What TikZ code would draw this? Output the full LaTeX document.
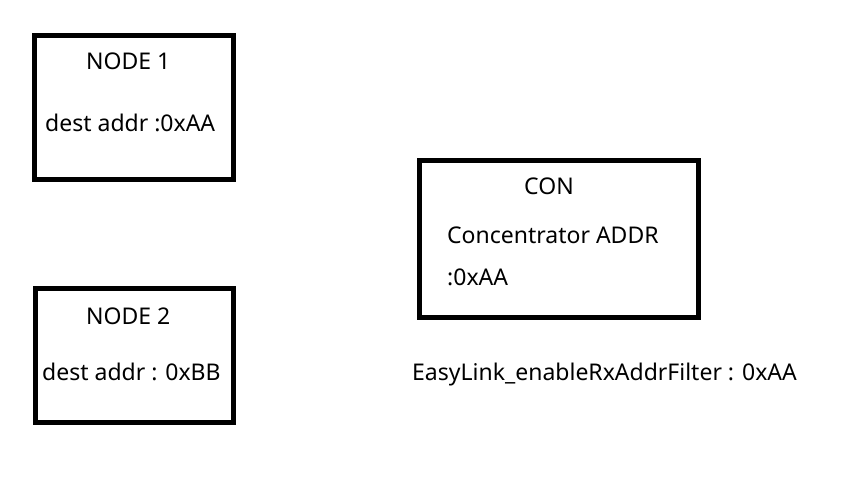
\documentclass[tikz,border=0pt]{standalone}
\usepackage{fontspec}
\setmainfont{Noto Sans}
\begin{document}
\begin{tikzpicture}[x=1pt,y=-1pt,
  boxstyle/.style={draw=black,line width=5pt},
  txt/.style={anchor=base west,inner sep=0pt,font=\fontsize{23}{27}\selectfont}]
\useasboundingbox (0,0) rectangle (855,479);
\draw[boxstyle] (34,35.5) rectangle (233.5,179);
\draw[boxstyle] (35.5,288) rectangle (233.5,422);
\draw[boxstyle] (419.5,160) rectangle (698,317);
\node[txt] (n1t) at (86,69) {NODE 1};
\node[txt] (n1a) at (45,131) {dest addr :0xAA};
\node[txt] (n2t) at (86,324) {NODE 2};
\node[txt] (n2a) at (42,380) {dest addr : 0xBB};
\node[txt] (ct) at (524,194) {CON};
\node[txt] (ca) at (447,243) {Concentrator ADDR};
\node[txt] (cb) at (447,285) {:0xAA};
\node[txt] (el) at (412,380) {EasyLink\_enableRxAddrFilter : 0xAA};
\end{tikzpicture}
\end{document}
